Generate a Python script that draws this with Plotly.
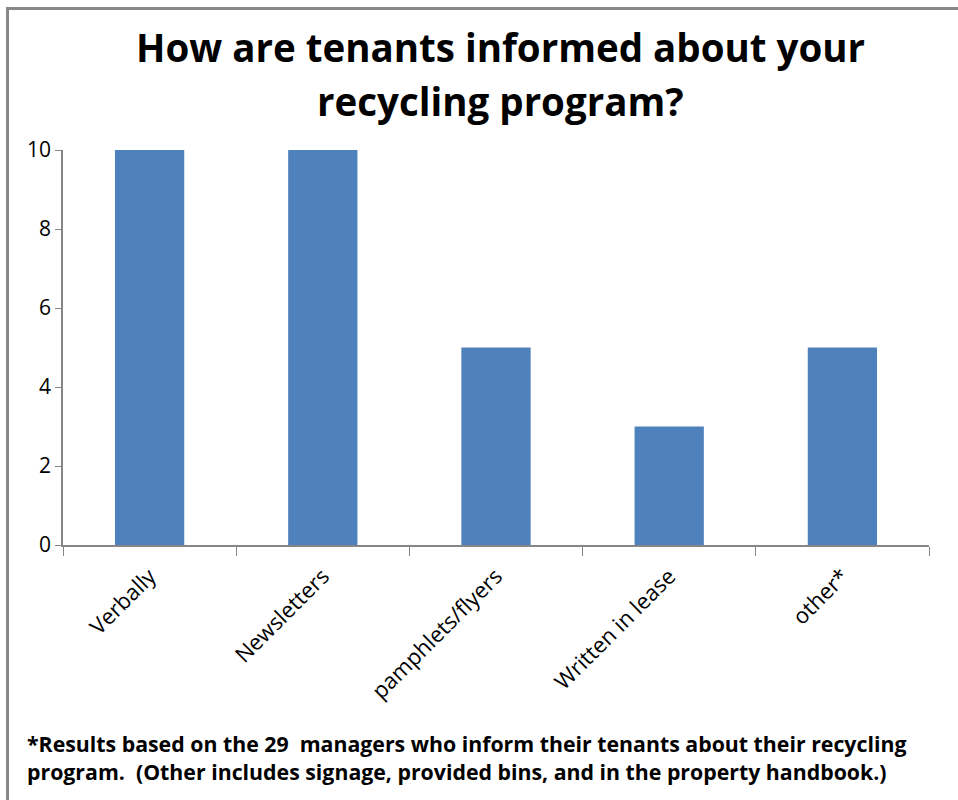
import plotly.graph_objects as go

categories = ["Verbally", "Newsletters", "pamphlets/flyers", "Written in lease", "other*"]
counts = [10, 10, 5, 3, 5]
y_ticks = [0, 2, 4, 6, 8, 10]

title_lines = ["How are tenants informed about your", "recycling program?"]
footnote = ("*Results based on the 29  managers who inform their tenants about their recycling<br>"
            "program.  (Other includes signage, provided bins, and in the property handbook.)")

FONT = "Open Sans"

fig = go.Figure(go.Bar(
    x=categories, y=counts,
    marker=dict(color="#4F81BD", line=dict(width=0)),
    width=0.4,
))

W, H = 958, 800
L, R, T, B = 63, 29, 150, 255
pw, ph = W - L - R, H - T - B

def px_x(x):  # screen x -> paper
    return (x - L) / pw

def px_y(y):  # screen y -> paper
    return (H - B - y) / ph

annotations = [
    dict(text=title_lines[0], xref="paper", yref="paper", x=px_x(500), y=px_y(47),
         xanchor="center", yanchor="middle", showarrow=False,
         font=dict(family=FONT, size=38.5, color="black", weight="bold")),
    dict(text=title_lines[1], xref="paper", yref="paper", x=px_x(500), y=px_y(101),
         xanchor="center", yanchor="middle", showarrow=False,
         font=dict(family=FONT, size=38.5, color="black", weight="bold")),
    dict(text=footnote, xref="paper", yref="paper",
         x=px_x(25), y=px_y(727), xanchor="left", yanchor="top", align="left",
         showarrow=False, font=dict(family=FONT, size=21.3, color="black", weight="bold")),
]

border = dict(color="#888888", width=3)

fig.update_layout(
    width=W, height=H,
    margin=dict(l=L, r=R, t=T, b=B, autoexpand=False),
    paper_bgcolor="white", plot_bgcolor="white",
    showlegend=False,
    xaxis=dict(
        type="category", tickson="boundaries", ticks="outside", ticklen=9,
        tickcolor="#868686", showline=True, linecolor="#868686", linewidth=1.5,
        tickangle=-45, tickfont=dict(family=FONT, size=22, color="black"),
        ticklabelstandoff=8, showgrid=False,
    ),
    yaxis=dict(
        range=[0, 10], tickvals=y_ticks, ticks="outside", ticklen=6,
        tickcolor="#868686", showline=True, linecolor="#868686", linewidth=1.5,
        tickfont=dict(family=FONT, size=21, color="black"),
        showgrid=False, zeroline=False,
    ),
    annotations=annotations,
    shapes=[
        dict(type="line", xref="paper", yref="paper",
             x0=px_x(7.5), x1=px_x(1000), y0=px_y(8.5), y1=px_y(8.5), line=border),
        dict(type="line", xref="paper", yref="paper",
             x0=px_x(7.5), x1=px_x(7.5), y0=px_y(7), y1=px_y(1000), line=border),
    ],
)

fig.write_html(
    "out.html",
    config={"displayModeBar": False},
    post_script="document.body.style.margin='0';"
                "document.documentElement.style.overflow='hidden';"
                "document.body.style.overflow='hidden';",
)
